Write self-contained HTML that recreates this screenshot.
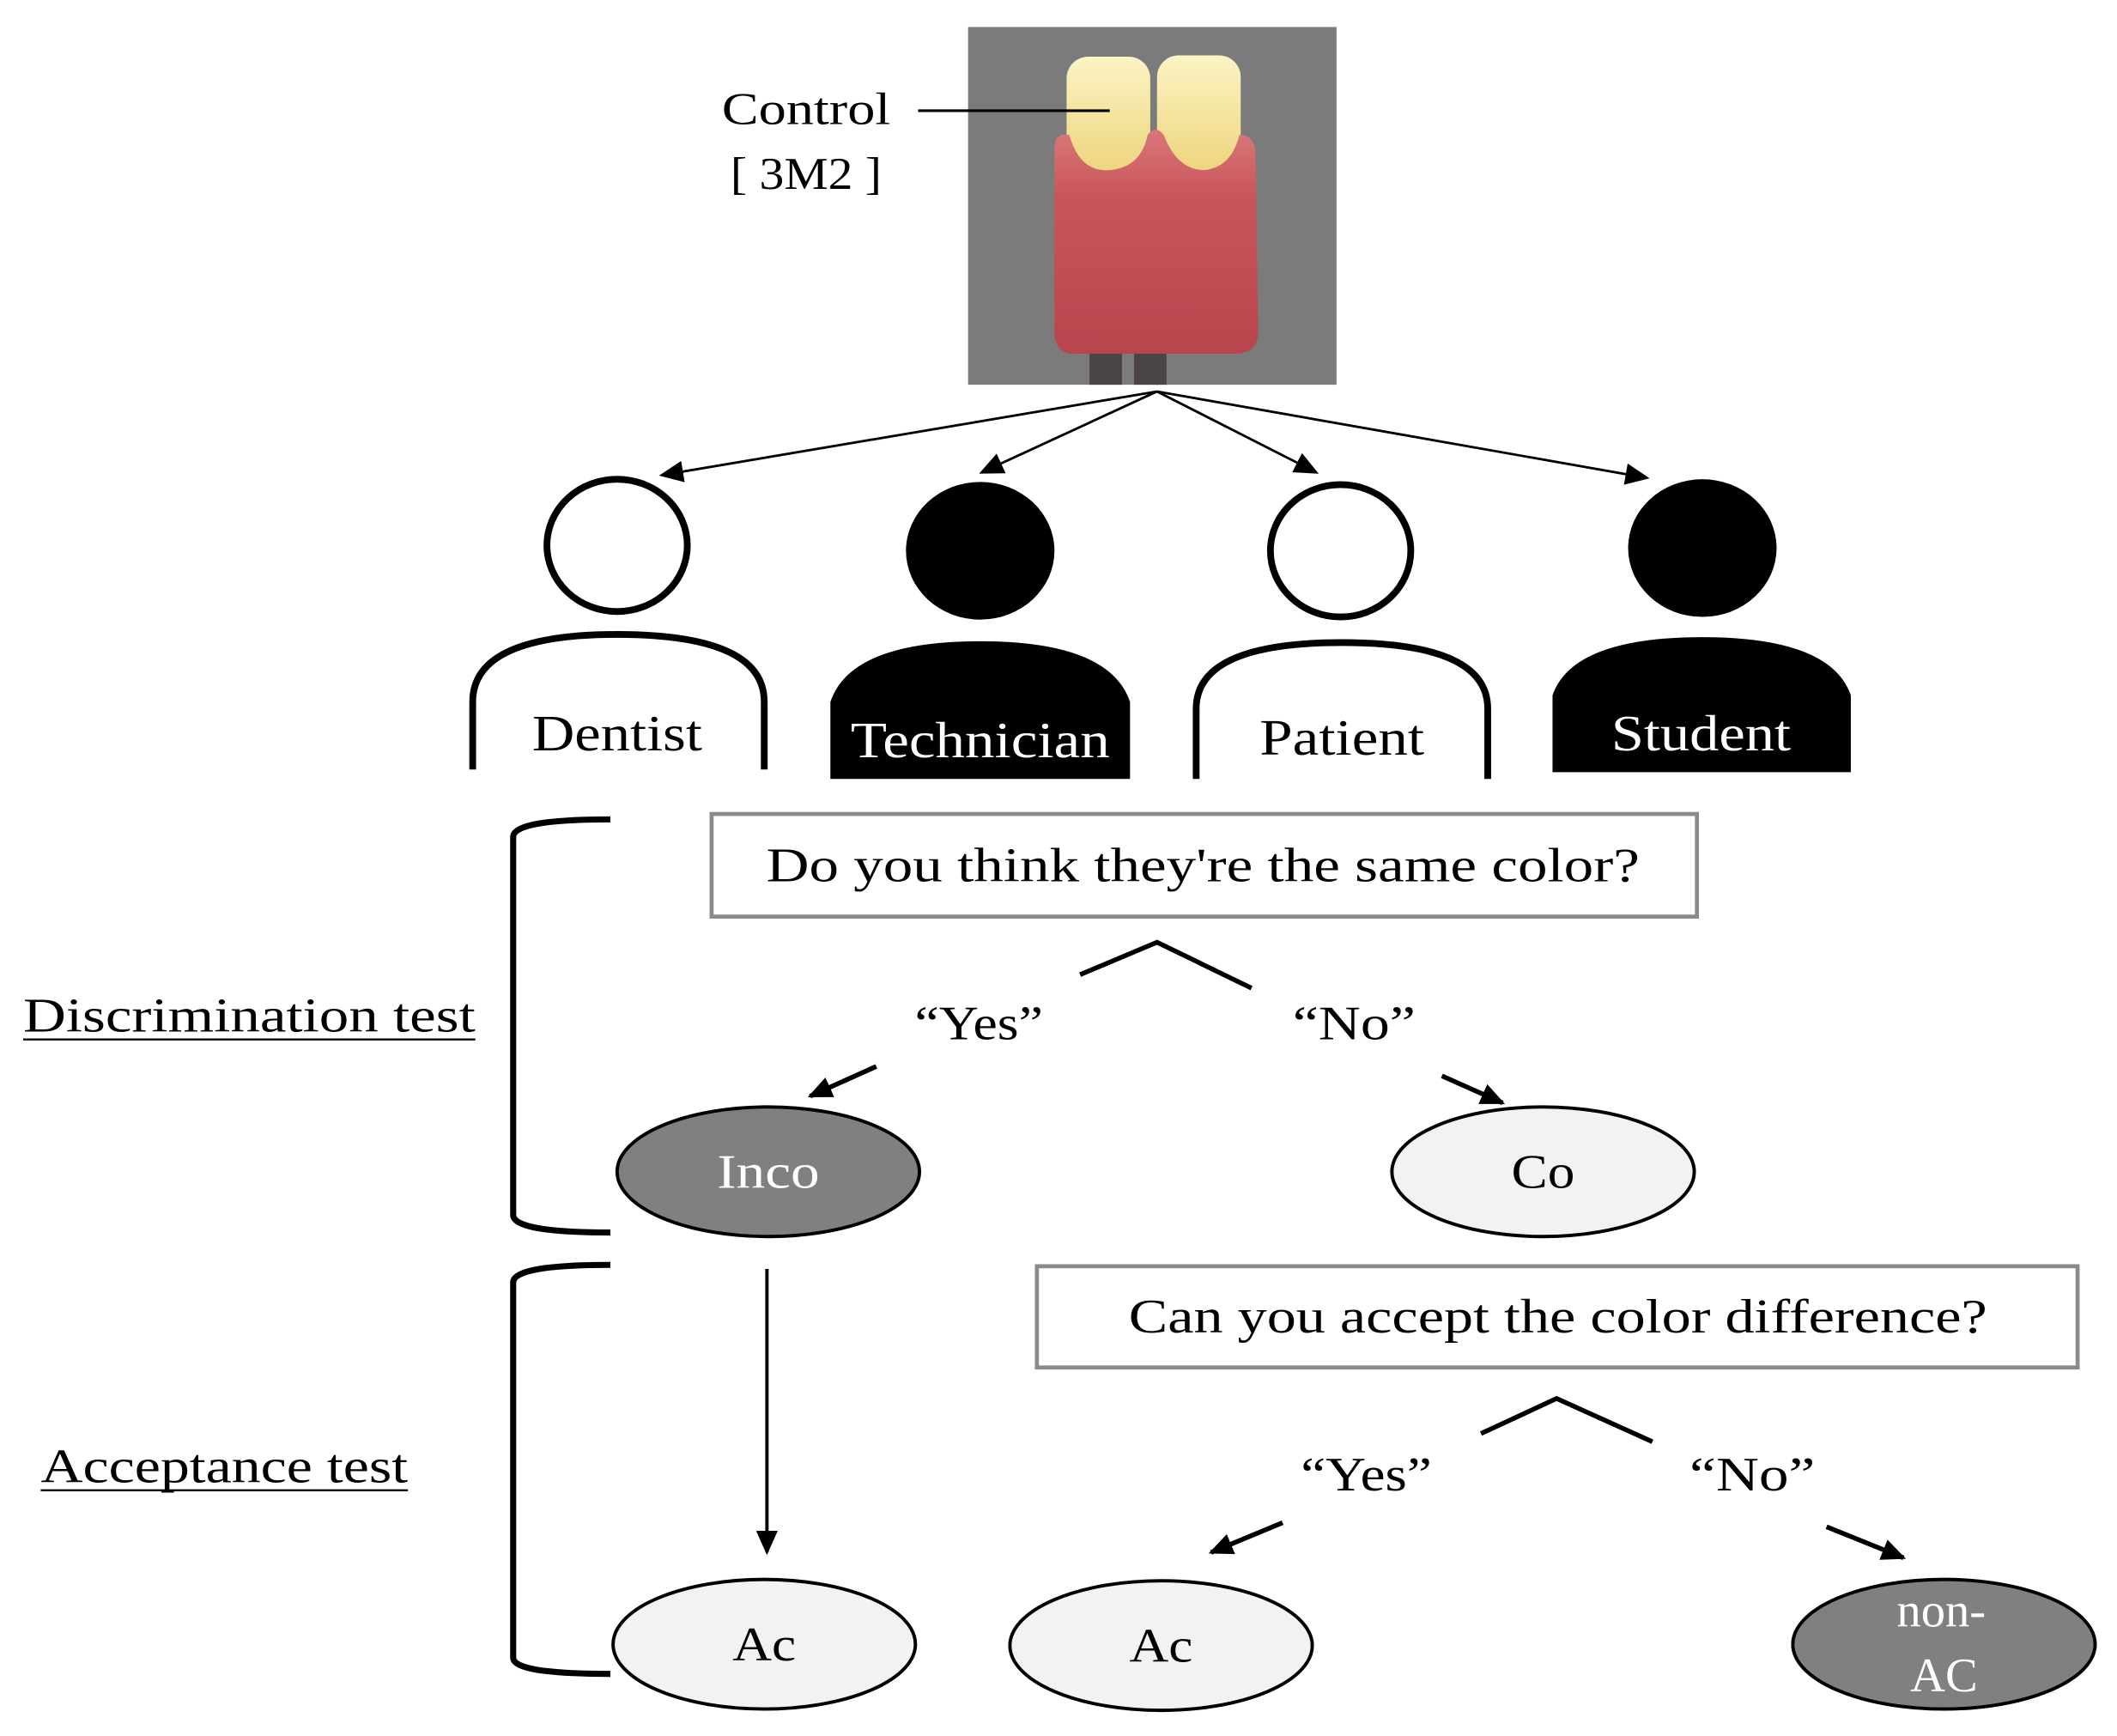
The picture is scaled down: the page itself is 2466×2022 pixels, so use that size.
<!DOCTYPE html>
<html><head><meta charset="utf-8"><style>html,body{margin:0;padding:0;background:#fff}svg{display:block}</style></head>
<body>
<svg width="2466" height="2022" viewBox="0 0 1568 1286" xmlns="http://www.w3.org/2000/svg" font-family="'Liberation Serif', serif">
<defs>
<marker id="ah2" markerWidth="18" markerHeight="16" refX="16" refY="8" orient="auto" markerUnits="userSpaceOnUse"><path d="M0,0 L18,8 L0,16 z" fill="#000"/></marker>
<linearGradient id="gum" x1="0" y1="0" x2="0" y2="1"><stop offset="0" stop-color="#d9787a"/><stop offset="0.3" stop-color="#c9555c"/><stop offset="1" stop-color="#b8454d"/></linearGradient>
<linearGradient id="tooth" x1="0" y1="0" x2="0" y2="1"><stop offset="0" stop-color="#fbf4c4"/><stop offset="1" stop-color="#eccf72"/></linearGradient>
</defs>
<rect x="717" y="20" width="273" height="265" fill="#7b7b7b"/>
<rect x="807" y="240" width="24" height="45" fill="#4a4444"/>
<rect x="840" y="240" width="24" height="45" fill="#4a4444"/>
<rect x="790" y="42" width="62" height="100" rx="16" fill="url(#tooth)"/>
<rect x="857" y="41" width="62" height="100" rx="16" fill="url(#tooth)"/>
<path d="M781,110 Q781,98 792,100 Q800,128 822,126 Q845,124 850,100 Q856,92 862,100 Q872,126 892,126 Q912,124 918,100 Q930,100 930,115 L932,245 Q932,262 915,262 L795,262 Q781,262 781,245 Z" fill="url(#gum)"/>
<text x="597" y="92" font-size="34" text-anchor="middle" textLength="125" lengthAdjust="spacingAndGlyphs">Control</text>
<text x="597" y="140" font-size="34" text-anchor="middle" textLength="112" lengthAdjust="spacingAndGlyphs">[ 3M2 ]</text>
<line x1="680" y1="82" x2="822" y2="82" stroke="#000" stroke-width="2"/>
<g stroke="#000" stroke-width="1.8" marker-end="url(#ah2)">
<line x1="857" y1="290" x2="490" y2="352"/>
<line x1="857" y1="290" x2="727" y2="350"/>
<line x1="857" y1="290" x2="975" y2="350"/>
<line x1="857" y1="290" x2="1220" y2="354"/>
</g>
<ellipse cx="457" cy="404" rx="52" ry="49" fill="#fff" stroke="#000" stroke-width="5"/>
<path d="M350,570 L350,520 Q350,470 457,470 Q566,470 566,520 L566,570" fill="none" stroke="#000" stroke-width="5"/>
<text x="457" y="556" font-size="38" text-anchor="middle" textLength="126" lengthAdjust="spacingAndGlyphs">Dentist</text>
<ellipse cx="726" cy="408" rx="55" ry="51" fill="#000"/>
<path d="M615,577 L615,520 Q630,475 726,475 Q822,475 837,520 L837,577 Z" fill="#000"/>
<text x="726" y="561" font-size="38" text-anchor="middle" fill="#fff" textLength="192" lengthAdjust="spacingAndGlyphs">Technician</text>
<ellipse cx="993" cy="408" rx="52" ry="49" fill="#fff" stroke="#000" stroke-width="5"/>
<path d="M886,577 L886,525 Q886,476 994,476 Q1102,476 1102,525 L1102,577" fill="none" stroke="#000" stroke-width="5"/>
<text x="994" y="559" font-size="38" text-anchor="middle" textLength="122" lengthAdjust="spacingAndGlyphs">Patient</text>
<ellipse cx="1261" cy="406" rx="55" ry="51" fill="#000"/>
<path d="M1150,572 L1150,515 Q1165,472 1261,472 Q1356,472 1371,515 L1371,572 Z" fill="#000"/>
<text x="1260" y="556" font-size="38" text-anchor="middle" fill="#fff" textLength="133" lengthAdjust="spacingAndGlyphs">Student</text>
<path d="M452,607 Q380,607 380,620 L380,900 Q380,913 452,913" fill="none" stroke="#000" stroke-width="4.5"/>
<path d="M452,937 Q380,937 380,950 L380,1228 Q380,1240 452,1240" fill="none" stroke="#000" stroke-width="4.5"/>
<text x="17" y="764" font-size="36" textLength="335" lengthAdjust="spacingAndGlyphs">Discrimination test</text>
<line x1="17" y1="770" x2="352" y2="770" stroke="#000" stroke-width="1.5"/>
<text x="30" y="1098" font-size="36" textLength="272" lengthAdjust="spacingAndGlyphs">Acceptance test</text>
<line x1="30" y1="1104" x2="302" y2="1104" stroke="#000" stroke-width="1.5"/>
<rect x="527" y="603" width="730" height="76" fill="#fff" stroke="#8a8a8a" stroke-width="3"/>
<text x="891" y="653" font-size="36" text-anchor="middle" textLength="647" lengthAdjust="spacingAndGlyphs">Do you think they're the same color?</text>
<polyline points="800,722 857,698 927,732" fill="none" stroke="#000" stroke-width="3.5"/>
<text x="725" y="770" font-size="36" text-anchor="middle" textLength="95" lengthAdjust="spacingAndGlyphs">“Yes”</text>
<text x="1003" y="770" font-size="36" text-anchor="middle" textLength="91" lengthAdjust="spacingAndGlyphs">“No”</text>
<line x1="649" y1="790" x2="600" y2="812" stroke="#000" stroke-width="3.5" marker-end="url(#ah2)"/>
<line x1="1068" y1="797" x2="1113" y2="817" stroke="#000" stroke-width="3.5" marker-end="url(#ah2)"/>
<ellipse cx="569" cy="868" rx="112" ry="48" fill="#808080" stroke="#000" stroke-width="2.5"/>
<text x="569" y="880" font-size="36" text-anchor="middle" fill="#fff" textLength="76" lengthAdjust="spacingAndGlyphs">Inco</text>
<ellipse cx="1143" cy="868" rx="112" ry="48" fill="#f2f2f2" stroke="#000" stroke-width="2.5"/>
<text x="1143" y="880" font-size="36" text-anchor="middle" textLength="47" lengthAdjust="spacingAndGlyphs">Co</text>
<line x1="568" y1="940" x2="568" y2="1150" stroke="#000" stroke-width="2.5" marker-end="url(#ah2)"/>
<rect x="768" y="938" width="771" height="75" fill="#fff" stroke="#8a8a8a" stroke-width="3"/>
<text x="1154" y="987" font-size="36" text-anchor="middle" textLength="636" lengthAdjust="spacingAndGlyphs">Can you accept the color difference?</text>
<polyline points="1097,1062 1153,1036 1224,1068" fill="none" stroke="#000" stroke-width="3.5"/>
<text x="1012" y="1104" font-size="36" text-anchor="middle" textLength="97" lengthAdjust="spacingAndGlyphs">“Yes”</text>
<text x="1298" y="1104" font-size="36" text-anchor="middle" textLength="93" lengthAdjust="spacingAndGlyphs">“No”</text>
<line x1="950" y1="1128" x2="897" y2="1150" stroke="#000" stroke-width="3.5" marker-end="url(#ah2)"/>
<line x1="1353" y1="1131" x2="1410" y2="1154" stroke="#000" stroke-width="3.5" marker-end="url(#ah2)"/>
<ellipse cx="566" cy="1218" rx="112" ry="48" fill="#f2f2f2" stroke="#000" stroke-width="2.5"/>
<text x="566" y="1230" font-size="36" text-anchor="middle" textLength="47" lengthAdjust="spacingAndGlyphs">Ac</text>
<ellipse cx="860" cy="1219" rx="112" ry="48" fill="#f2f2f2" stroke="#000" stroke-width="2.5"/>
<text x="860" y="1231" font-size="36" text-anchor="middle" textLength="47" lengthAdjust="spacingAndGlyphs">Ac</text>
<ellipse cx="1440" cy="1218" rx="112" ry="48" fill="#808080" stroke="#000" stroke-width="2.5"/>
<text x="1438" y="1205" font-size="36" text-anchor="middle" fill="#fff">non-</text>
<text x="1440" y="1253" font-size="36" text-anchor="middle" fill="#fff">AC</text>
</svg>
</body></html>
